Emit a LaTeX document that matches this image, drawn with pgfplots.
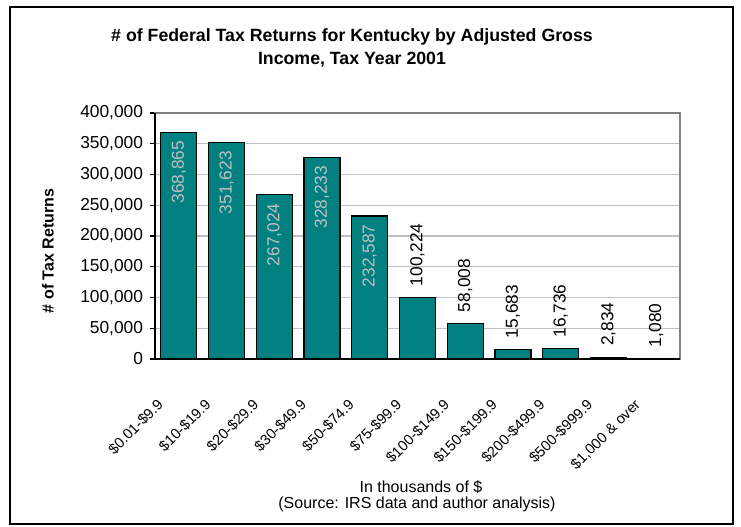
\documentclass[border=0pt]{standalone}
\usepackage{pgfplots}
\pgfplotsset{compat=1.18}
\usepackage{fontspec}
\setmainfont{Liberation Sans}
\definecolor{barteal}{HTML}{008080}
\definecolor{silver}{HTML}{C0C0C0}
\definecolor{boxgray}{HTML}{808080}
\begin{document}
\begin{tikzpicture}
\path (0,0) rectangle (555.75pt,395.25pt);
\draw[line width=1.6pt] (7.5pt,2.5pt) rectangle (549.75pt,390pt);
\node[font=\fontsize{13.3}{15}\selectfont\bfseries] at (264pt,367.5pt) {\# of Federal Tax Returns for Kentucky by Adjusted Gross};
\node[font=\fontsize{13.3}{15}\selectfont\bfseries] at (264pt,350.25pt) {Income, Tax Year 2001};
\node[font=\fontsize{12}{14}\selectfont\bfseries, rotate=90] at (36pt,207pt) {\# of Tax Returns};
\node[font=\fontsize{12}{14}\selectfont] at (315.75pt,30pt) {In thousands of \$};
\node[font=\fontsize{12}{14}\selectfont] at (312.75pt,17pt) {(Source: IRS data and author analysis)};
\begin{axis}[
  at={(116.25pt,126pt)}, anchor=south west,
  scale only axis, width=393.75pt, height=184.5pt,
  xmin=-0.5, xmax=10.5, ymin=0, ymax=400000,
  enlargelimits=false,
  ybar, bar width=27pt,
  /pgf/number format/fixed,
  /pgf/number format/1000 sep={,},
  /pgf/number format/assume math mode=true,
  axis line style={draw=boxgray, line width=1.2pt},
  ymajorgrids, grid style={draw=silver, line width=0.8pt},
  ytick={0,50000,...,400000},
  scaled y ticks=false,
  yticklabel style={font=\fontsize{13}{15}\selectfont, xshift=-1.5pt},
  ytick pos=left, xtick pos=left,
  tick align=outside,
  major tick length=4pt,
  tick style={black, line width=1pt},
  xtick={0,...,10},
  xticklabels={\$0.01-\$9.9,\$10-\$19.9,\$20-\$29.9,\$30-\$49.9,\$50-\$74.9,\$75-\$99.9,\$100-\$149.9,\$150-\$199.9,\$200-\$499.9,\$500-\$999.9,\$1{,}000 \& over},
  x tick style={draw=none},
  xticklabel style={font=\fontsize{11}{12}\selectfont, xshift=-17pt, yshift=-25pt, rotate=45, anchor=north east, inner sep=0pt},
  extra x ticks={-0.5,0.5,1.5,2.5,3.5,4.5,5.5,6.5,7.5,8.5,9.5,10.5},
  extra x tick labels={},
  extra x tick style={grid=none, tick style={draw=black, line width=1pt}, major tick length=4pt},
  nodes near coords,
  clip=false,
]
\addplot[fill=barteal, draw=black, line width=0.9pt, bar shift=0pt,
  nodes near coords style={rotate=90, anchor=east, color=silver, inner sep=6pt, font=\fontsize{13}{15}\selectfont}]
  coordinates {(0,368865) (1,351623) (2,267024) (3,328233) (4,232587)};
\addplot[fill=barteal, draw=black, line width=0.9pt, bar shift=0pt,
  nodes near coords style={rotate=90, anchor=west, color=black, inner sep=8pt, font=\fontsize{13}{15}\selectfont}]
  coordinates {(5,100224) (6,58008) (7,15683) (8,16736) (9,2834) (10,1080)};
\draw[black, line width=1.6pt] (rel axis cs:0,1) -- (rel axis cs:0,0) -- (rel axis cs:1,0);
\end{axis}
\end{tikzpicture}
\end{document}
